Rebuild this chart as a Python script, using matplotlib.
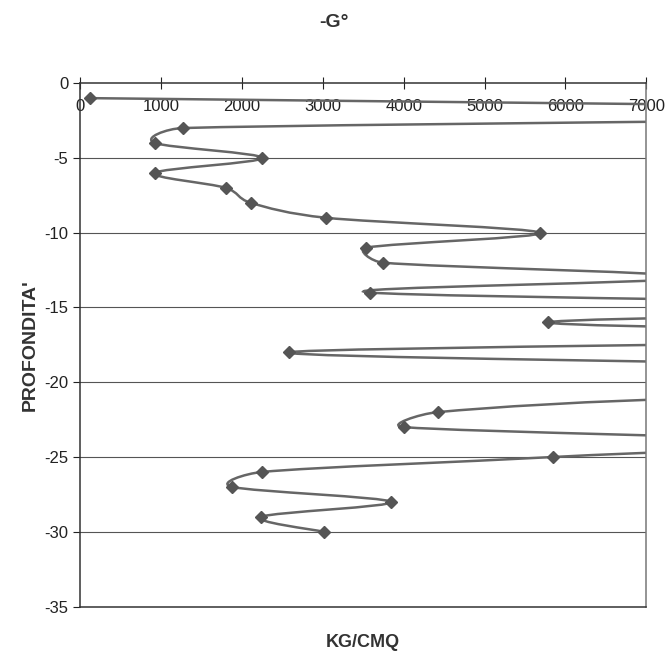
import numpy as np
import matplotlib.pyplot as plt
from matplotlib.path import Path
from matplotlib.patches import PathPatch

plt.rcParams['font.family'] = ['Liberation Sans', 'DejaVu Sans']
plt.rcParams['axes.unicode_minus'] = False

# depth (m) and resistance (kg/cmq); values above 7000 run off the chart
depth = [-1, -2, -3, -4, -5, -6, -7, -8, -9, -10,
         -11, -12, -13, -14, -15, -16, -17, -18, -19, -20,
         -21, -22, -23, -24, -25, -26, -27, -28, -29, -30]
resistance = [120, 14000, 1270, 925, 2250, 925, 1800, 2110, 3040, 5680,
              3540, 3740, 7600, 3580, 12000, 5790, 12000, 2580, 11000, 18000,
              8000, 4420, 4000, 9000, 5850, 2250, 1880, 3840, 2240, 3010]

x_ticks = [0, 1000, 2000, 3000, 4000, 5000, 6000, 7000]
y_ticks = [0, -5, -10, -15, -20, -25, -30, -35]

line_col = '#666666'
mark_col = '#555555'


def smooth_path(xs, ys, sx, sy):
    # bezier smoothing like the spreadsheet "smoothed line" option
    P = np.column_stack([np.asarray(xs, float) * sx, np.asarray(ys, float) * sy])
    n = len(P)
    verts = [P[0]]
    codes = [Path.MOVETO]
    for i in range(n - 1):
        p0 = P[i - 1] if i > 0 else P[i]
        p1, p2 = P[i], P[i + 1]
        p3 = P[i + 2] if i + 2 < n else P[i + 1]
        d12 = np.hypot(*(p2 - p1))
        d02 = np.hypot(*(p2 - p0))
        d13 = np.hypot(*(p3 - p1))
        f0 = 1 / 6 if d02 / 6 < d12 / 2 else d12 / 2 / d02
        f1 = 1 / 6 if d13 / 6 < d12 / 2 else d12 / 2 / d13
        verts += [p1 + (p2 - p0) * f0, p2 - (p3 - p1) * f1, p2]
        codes += [Path.CURVE4] * 3
    verts = np.array(verts) / [sx, sy]
    return Path(verts, codes)


fig = plt.figure(figsize=(6.67, 6.55), dpi=100)
ax = fig.add_axes([0.12, 0.074, 0.849, 0.799])

ax.set_xlim(0, 7000)
ax.set_ylim(-35, 0)

for y in y_ticks[1:-1]:
    ax.axhline(y, color='#555555', lw=0.8, zorder=1)

path = smooth_path(resistance, depth, 566 / 7000, 522 / 35)
ax.add_patch(PathPatch(path, facecolor='none', edgecolor=line_col, lw=1.8, zorder=2))
ax.plot(resistance, depth, linestyle='none', marker='D', ms=6.5,
        color=mark_col, zorder=3)

ax.set_xticks(x_ticks)
ax.set_yticks(y_ticks)
ax.xaxis.tick_top()
ax.tick_params(axis='x', top=True, bottom=False, labeltop=True, labelbottom=False,
               direction='inout', length=8, pad=-26, labelsize=12, colors='#222222')
ax.tick_params(axis='y', direction='out', length=5, labelsize=12, colors='#222222')
for s in ax.spines.values():
    s.set_color('#333333')
    s.set_linewidth(1.1)
ax.spines['right'].set_color('#777777')

fig.text(0.5, 0.966, '-G°', ha='center', va='center', fontsize=14, fontweight='bold',
         color='#333333')
ax.set_xlabel('KG/CMQ', fontsize=13, fontweight='bold', color='#333333', labelpad=20)
ax.set_ylabel("PROFONDITA'", fontsize=14, fontweight='bold', color='#333333', labelpad=4)

fig.savefig('out.png', dpi=100)
